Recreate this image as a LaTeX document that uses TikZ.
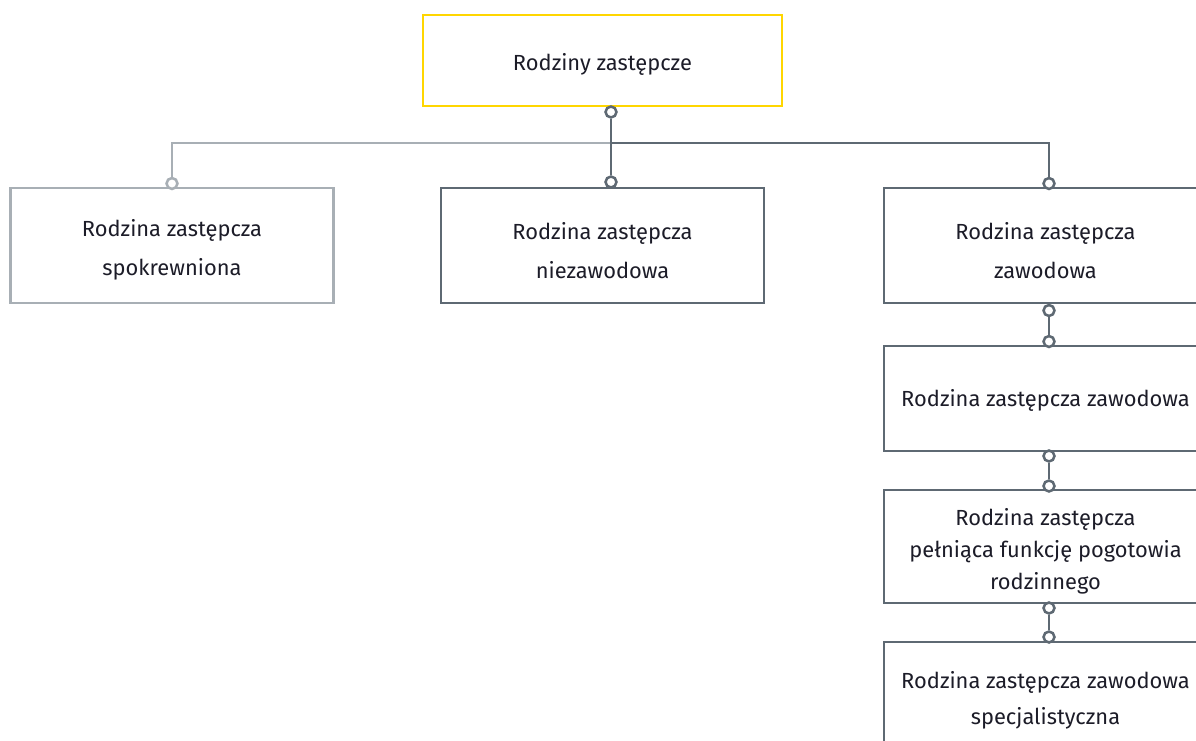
\documentclass[tikz,border=0pt]{standalone}
\usepackage{fontspec}
\setmainfont{Fira Sans}
\usetikzlibrary{calc}
\definecolor{ylw}{RGB}{255,214,0}
\definecolor{dk}{RGB}{94,105,115}
\definecolor{lt}{RGB}{168,175,181}
\definecolor{txt}{RGB}{28,28,40}
\begin{document}
\begin{tikzpicture}[x=0.75pt,y=-0.75pt,
  box/.style={draw=dk,line width=2pt,fill=white,minimum width=242.25pt,inner sep=0pt},
  lbl/.style={align=center,text=txt,font=\fontsize{16.4pt}{29.25pt}\selectfont,inner sep=0pt,yshift=-3.5pt},
  dot/.style={circle,draw=#1,line width=1.9pt,fill=white,minimum size=8.2pt,inner sep=0pt},
  conn/.style={draw=#1,line width=1.9pt}]
\useasboundingbox (0,0) rectangle (1196,740);
\clip (0,0) rectangle (1196,740);
% boxes
\node[box,draw=ylw,minimum width=269.25pt,minimum height=68.25pt,
  label={[lbl,yshift=0.5pt]center:{Rodziny zastępcze}}] (top) at (602.5,60.5) {};
\node[box,draw=lt,minimum height=86.25pt,
  label={[lbl]center:{Rodzina zastępcza\\spokrewniona}}] (left) at (172,245.5) {};
\node[box,minimum height=86.25pt,
  label={[lbl]center:{Rodzina zastępcza\\niezawodowa}}] (mid) at (602.5,245.5) {};
\node[box,minimum height=86.25pt,
  label={[lbl]center:{Rodzina zastępcza\\zawodowa}}] (r1) at (1045.5,245.5) {};
\node[box,minimum height=78.75pt,
  label={[lbl,yshift=2pt]center:{Rodzina zastępcza zawodowa}}] (r2) at (1045.5,398.5) {};
\node[box,minimum height=84.75pt,
  label={[lbl,font=\fontsize{16.4pt}{24pt}\selectfont,yshift=-0.25pt]center:{Rodzina zastępcza\\pełniąca funkcję pogotowia\\rodzinnego}}] (r3) at (1045.5,546.5) {};
\node[box,minimum height=86.25pt,
  label={[lbl,font=\fontsize{16.4pt}{27pt}\selectfont,yshift=2.75pt]center:{Rodzina zastępcza zawodowa\\specjalistyczna}}] (r4) at (1045.5,699.5) {};
% dots
\node[dot=dk] (d0) at (611,112) {};
\node[dot=lt] (dL) at (172,183.5) {};
\node[dot=dk] (dM) at (611,182) {};
\node[dot=dk] (dR) at (1049,183.5) {};
\node[dot=dk] (a1) at (1049,310.5) {};
\node[dot=dk] (b2) at (1049,341.5) {};
\node[dot=dk] (a2) at (1049,456) {};
\node[dot=dk] (b3) at (1049,486) {};
\node[dot=dk] (a3) at (1049,608) {};
\node[dot=dk] (b4) at (1049,637) {};
\coordinate (bus) at (611,143);
% connectors
\draw[conn=lt] (bus) -| (dL);
\draw[conn=dk] (d0) -- (dM);
\draw[conn=dk] (bus) -| (dR);
\draw[conn=dk] (a1) -- (b2);
\draw[conn=dk] (a2) -- (b3);
\draw[conn=dk] (a3) -- (b4);
\end{tikzpicture}
\end{document}
